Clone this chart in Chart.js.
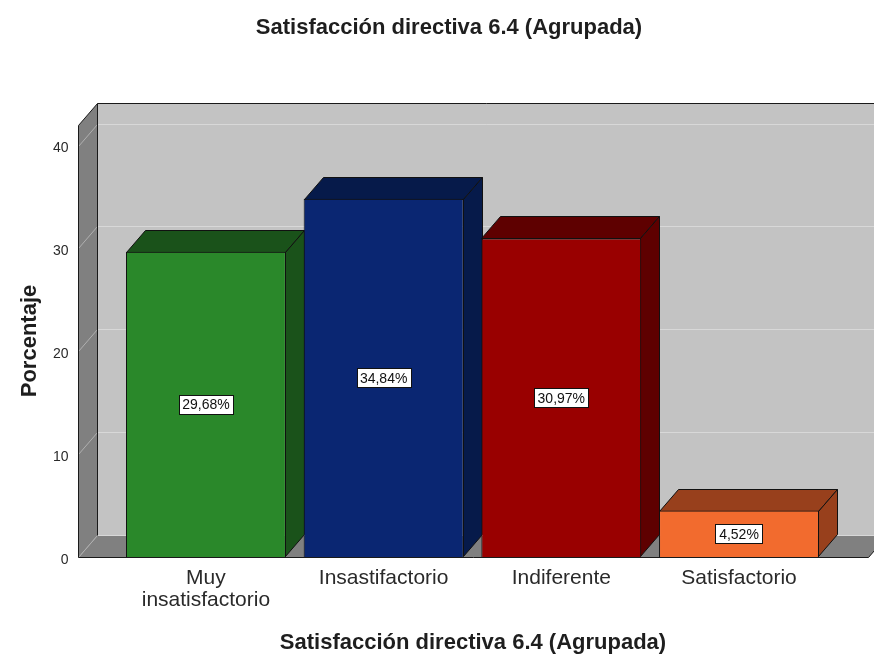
<!DOCTYPE html>
<html>
<head>
<meta charset="utf-8">
<script src="https://cdn.jsdelivr.net/npm/chart.js@4.4.1/dist/chart.umd.min.js"></script>
<style>
  html, body { margin: 0; padding: 0; background: #fff; }
  canvas { display: block; }
</style>
</head>
<body>
<canvas id="grafico" width="874" height="657"></canvas>
<script>
// datos
const categorias = [['Muy', 'insatisfactorio'], 'Insastifactorio', 'Indiferente', 'Satisfactorio'];
const porcentajes = [29.68, 34.84, 30.97, 4.52];
const etiquetas = ['29,68%', '34,84%', '30,97%', '4,52%'];
const ticksY = [0, 10, 20, 30, 40];
const posiciones = [0, 1, 2, 3];

const coloresFrente = ['#2a882a', '#0a2672', '#990000', '#f26b2e'];
const coloresSombra = ['#1a521a', '#061a4a', '#5e0000', '#98401c'];

const titulo = 'Satisfacción directiva 6.4 (Agrupada)';
const fuente = '"Liberation Sans", Arial, sans-serif';

// profundidad del efecto 3D
const dx = 19;
const dy = -22;

function poligono(ctx, pts, relleno, borde) {
  ctx.beginPath();
  ctx.moveTo(pts[0][0], pts[0][1]);
  for (let i = 1; i < pts.length; i++) ctx.lineTo(pts[i][0], pts[i][1]);
  ctx.closePath();
  if (relleno) { ctx.fillStyle = relleno; ctx.fill(); }
  if (borde) { ctx.strokeStyle = borde; ctx.lineWidth = 1; ctx.stroke(); }
}

function linea(ctx, x1, y1, x2, y2, color) {
  ctx.beginPath();
  ctx.moveTo(x1, y1);
  ctx.lineTo(x2, y2);
  ctx.strokeStyle = color;
  ctx.lineWidth = 1;
  ctx.stroke();
}

const efecto3d = {
  id: 'efecto3d',
  beforeDatasetsDraw(chart) {
    const { ctx, chartArea: a, scales: { y } } = chart;
    const L = a.left + 0.5, R = a.right + 0.5;
    const y0 = Math.round(y.getPixelForValue(0)) + 0.5;
    const yTop = Math.round(y.getPixelForValue(y.max)) + 0.5;
    ctx.save();

    // pared del fondo
    ctx.fillStyle = '#c3c3c3';
    ctx.fillRect(L + dx, yTop + dy, R - L + 40, y0 - yTop);
    // suelo y pared izquierda
    poligono(ctx, [[L, y0], [L + dx, y0 + dy], [R + dx, y0 + dy], [R, y0]], '#808080');
    poligono(ctx, [[L, yTop], [L + dx, yTop + dy], [L + dx, y0 + dy], [L, y0]], '#808080');

    // lineas de cuadricula
    y.ticks.forEach(t => {
      const py = Math.round(y.getPixelForValue(t.value)) + 0.5;
      linea(ctx, L + dx, py + dy, R + dx + 40, py + dy, '#d8d8d8');
      linea(ctx, L, py, L + dx, py + dy, '#b0b0b0');
    });

    // bordes
    ctx.beginPath();
    ctx.moveTo(L, y0);
    ctx.lineTo(L, yTop);
    ctx.lineTo(L + dx, yTop + dy);
    ctx.lineTo(R + dx + 40, yTop + dy);
    ctx.moveTo(L + dx, yTop + dy);
    ctx.lineTo(L + dx, y0 + dy);
    ctx.moveTo(L, y0);
    ctx.lineTo(R, y0);
    ctx.lineTo(R + dx, y0 + dy);
    ctx.strokeStyle = '#1a1a1a';
    ctx.lineWidth = 1;
    ctx.stroke();

    // caras superior y lateral de cada barra
    const meta = chart.getDatasetMeta(0);
    meta.data.forEach((barra, i) => {
      const { x, y: top, base, width } = barra.getProps(['x', 'y', 'base', 'width'], true);
      const izq = Math.round(x - width / 2) + 0.5;
      const der = Math.round(x + width / 2) - 0.5;
      const t = Math.round(top) + 0.5;
      const b = Math.round(base) - 0.5;
      poligono(ctx, [[izq, t], [izq + dx, t + dy], [der + dx, t + dy], [der, t]], coloresSombra[i], '#111');
      poligono(ctx, [[der, t], [der + dx, t + dy], [der + dx, b + dy], [der, b]], coloresSombra[i], '#111');
    });
    ctx.restore();
  },
  afterDatasetsDraw(chart) {
    const { ctx } = chart;
    const meta = chart.getDatasetMeta(0);
    ctx.save();
    ctx.font = '14px ' + fuente;
    ctx.textAlign = 'center';
    ctx.textBaseline = 'middle';
    meta.data.forEach((barra, i) => {
      const { x, y: top, base } = barra.getProps(['x', 'y', 'base'], true);
      const cy = (top + base) / 2;
      const w = Math.round(ctx.measureText(etiquetas[i]).width + 7);
      const h = 19;
      const bx = Math.round(x - w / 2) + 0.5;
      const by = Math.round(cy - h / 2) + 0.5;
      ctx.fillStyle = '#fff';
      ctx.fillRect(bx, by, w, h);
      ctx.strokeStyle = '#111';
      ctx.lineWidth = 1;
      ctx.strokeRect(bx, by, w, h);
      ctx.fillStyle = '#111';
      ctx.fillText(etiquetas[i], x, cy + 1);
    });
    ctx.restore();
  },
  afterDraw(chart) {
    const { ctx } = chart;
    ctx.save();
    ctx.font = 'bold 22px ' + fuente;
    ctx.fillStyle = '#1e1e1e';
    ctx.textAlign = 'center';
    ctx.textBaseline = 'middle';
    ctx.fillText(titulo, 449, 28);
    ctx.restore();
  }
};

const ctx = document.getElementById('grafico').getContext('2d');
new Chart(ctx, {
  type: 'bar',
  data: {
    datasets: [{
      label: 'Porcentaje',
      data: posiciones.map((p, i) => ({ x: p, y: porcentajes[i] })),
      backgroundColor: coloresFrente,
      borderColor: '#111',
      borderWidth: 1,
      barPercentage: 0.9,
      categoryPercentage: 1
    }]
  },
  options: {
    responsive: false,
    animation: false,
    layout: { padding: { top: 125, right: 6, left: 0, bottom: 0 } },
    plugins: {
      legend: { display: false },
      tooltip: { enabled: false }
    },
    scales: {
      x: {
        type: 'linear',
        offset: false,
        min: -0.72,
        max: 3.726,
        grid: { display: false, drawTicks: false, offset: false },
        border: { display: false },
        afterFit(scale) { scale.height = 100; },
        afterBuildTicks(scale) { scale.ticks = posiciones.map(v => ({ value: v })); },
        ticks: {
          autoSkip: false,
          maxRotation: 0,
          padding: 10.6,
          color: '#2a2a2a',
          font: { family: fuente, size: 21, lineHeight: 1.02 },
          callback: v => categorias[v]
        },
        title: {
          display: true,
          text: titulo,
          color: '#1e1e1e',
          font: { family: fuente, size: 22, weight: 'bold' },
          padding: { top: 0, bottom: 0.5 }
        }
      },
      y: {
        min: 0,
        max: 42,
        grid: { display: false, drawTicks: false },
        border: { display: false },
        afterFit(scale) { scale.width = 78; },
        afterBuildTicks(scale) { scale.ticks = ticksY.map(v => ({ value: v })); },
        ticks: {
          padding: 9.5,
          labelOffset: 3,
          color: '#2a2a2a',
          font: { family: fuente, size: 14 }
        },
        title: {
          display: true,
          text: 'Porcentaje',
          color: '#1e1e1e',
          font: { family: fuente, size: 22, weight: 'bold' },
          padding: { top: 17, bottom: 0 }
        }
      }
    }
  },
  plugins: [efecto3d]
});
</script>
</body>
</html>
